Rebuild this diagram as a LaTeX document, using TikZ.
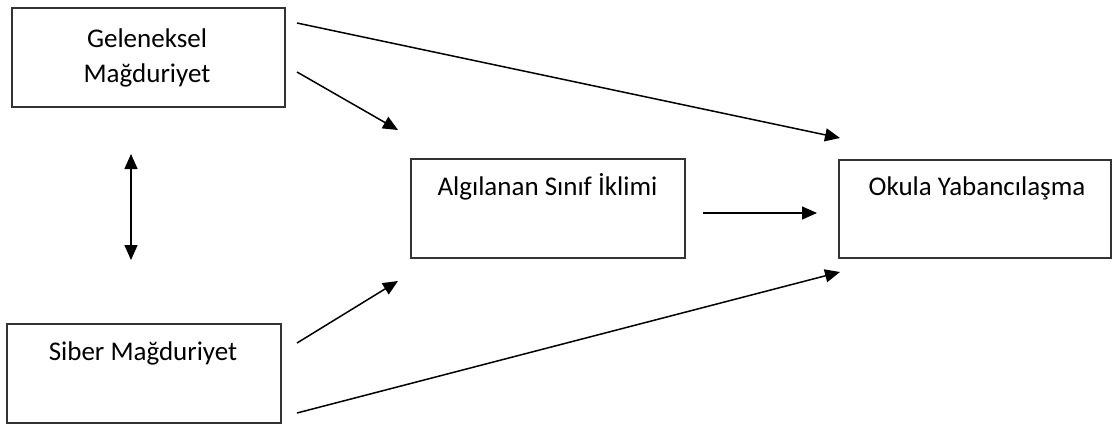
\documentclass[tikz,border=0pt]{standalone}
\usepackage{fontspec}
\setmainfont{Carlito}
\usetikzlibrary{arrows.meta}
\begin{document}
\begin{tikzpicture}[x=1pt,y=-1pt,
  box/.style={draw=black!80, line width=2pt, fill=white, inner sep=0pt},
  lbl/.style={anchor=base, inner sep=0pt, font=\fontsize{27}{35}\selectfont},
  link/.style={line width=1.5pt, -{Triangle[length=15pt,width=13pt]}},
  both/.style={line width=1.5pt, {Triangle[length=15pt,width=13pt]}-{Triangle[length=15pt,width=13pt]}}]
\useasboundingbox (0,0) rectangle (1113,426);
% boxes
\node[box, minimum width=273pt, minimum height=99pt] (geleneksel) at (148.5,57.5) {};
\node[box, minimum width=274pt, minimum height=99pt] (siber) at (144,373.5) {};
\node[box, minimum width=274pt, minimum height=99pt] (iklim) at (548,208.5) {};
\node[box, minimum width=272pt, minimum height=98pt] (yabanci) at (975,209) {};
% labels
\node[lbl] (t1) at (147,47) {Geleneksel};
\node[lbl] (t2) at (147,82) {Mağduriyet};
\node[lbl] (t3) at (143,360) {Siber Mağduriyet};
\node[lbl] (t4) at (547.5,195) {Algılanan Sınıf İklimi};
\node[lbl] (t5) at (977,195) {Okula Yabancılaşma};
% arrow end points
\coordinate (g1) at (297,23);
\coordinate (g2) at (297,72);
\coordinate (s1) at (297,343);
\coordinate (s2) at (297,413);
\coordinate (iIn1) at (398,130);
\coordinate (iIn2) at (398,281);
\coordinate (iOut) at (703,213);
\coordinate (yIn1) at (840,138);
\coordinate (yIn2) at (817,213);
\coordinate (yIn3) at (840,272);
\coordinate (dTop) at (131,154);
\coordinate (dBot) at (131,260);
% connectors
\draw[link] (g1) -- (yIn1);
\draw[link] (g2) -- (iIn1);
\draw[link] (s1) -- (iIn2);
\draw[link] (s2) -- (yIn3);
\draw[link] (iOut) -- (yIn2);
\draw[both] (dTop) -- (dBot);
\end{tikzpicture}
\end{document}
